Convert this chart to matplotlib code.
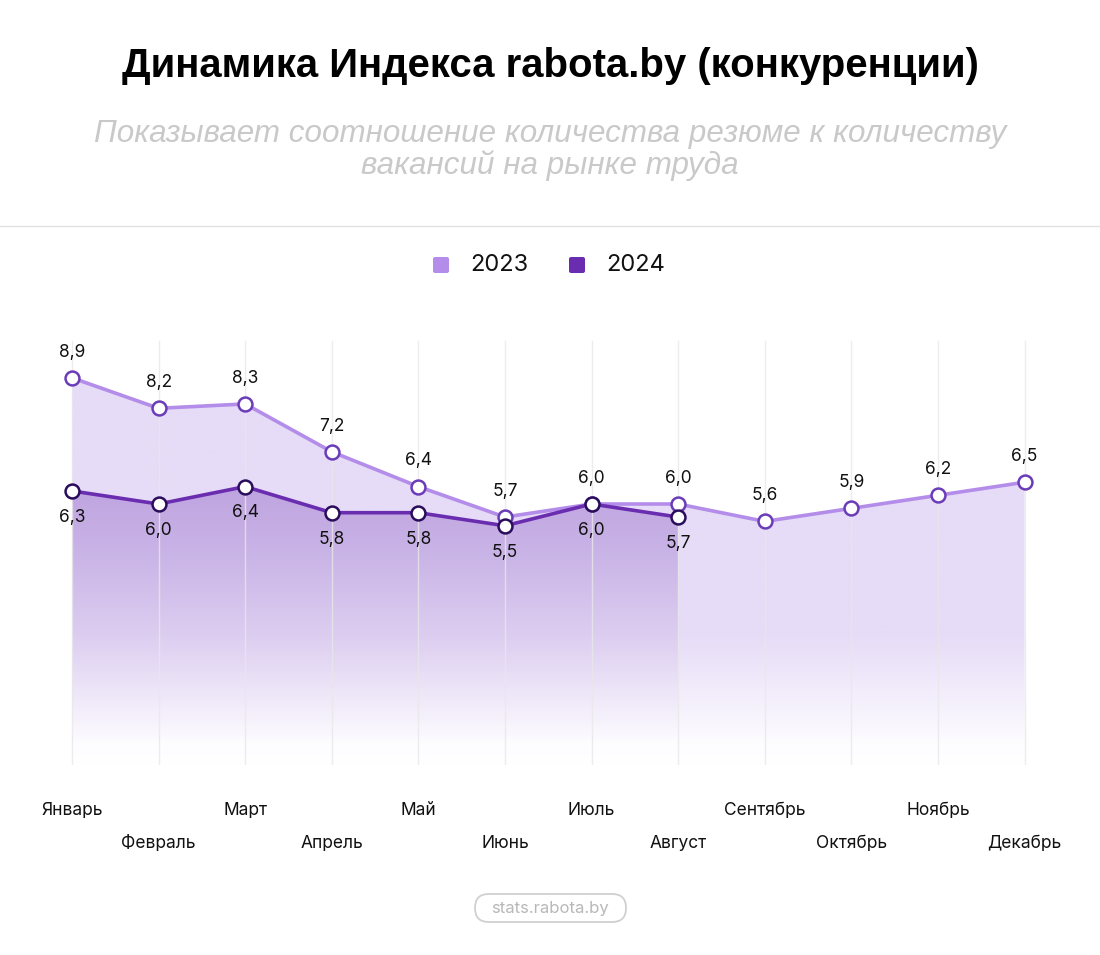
import numpy as np
import matplotlib
matplotlib.use('Agg')
import matplotlib.pyplot as plt
import matplotlib.colors as mcolors
from matplotlib.patches import Polygon, FancyBboxPatch
from matplotlib.lines import Line2D

# данные
months = ['Январь', 'Февраль', 'Март', 'Апрель', 'Май', 'Июнь',
          'Июль', 'Август', 'Сентябрь', 'Октябрь', 'Ноябрь', 'Декабрь']
vals_2023 = [8.9, 8.2, 8.3, 7.2, 6.4, 5.7, 6.0, 6.0, 5.6, 5.9, 6.2, 6.5]
vals_2024 = [6.3, 6.0, 6.4, 5.8, 5.8, 5.5, 6.0, 5.7]

c23 = '#b38de9'
c24 = '#6a2db0'
edge23 = '#6a3cb8'
edge24 = '#2a0c5c'
label_font = 'Inter'

fig = plt.figure(figsize=(11, 9.55), dpi=100)

# заголовок и подзаголовок
fig.text(0.5, 1 - 66 / 955, 'Динамика Индекса rabota.by (конкуренции)',
         ha='center', va='center', fontsize=28.9, fontweight='bold',
         family='Liberation Sans', color='#000000')
fig.text(0.5, 1 - 150 / 955,
         'Показывает соотношение количества резюме к количеству\nвакансий на рынке труда',
         ha='center', va='center', fontsize=22.6, style='italic',
         family='Liberation Sans', color='#c9c9c9', linespacing=1.08)
fig.add_artist(Line2D([0, 1], [1 - 226 / 955, 1 - 226 / 955],
                      color='#e2e2e2', lw=1, transform=fig.transFigure))

# легенда
for xs, col, txt in [(441, c23, '2023'), (577, c24, '2024')]:
    fig.add_artist(FancyBboxPatch(((xs - 8) / 1100, (955 - 273) / 955), 16 / 1100, 16 / 955,
                                  boxstyle='round,pad=0,rounding_size=0.002',
                                  transform=fig.transFigure, facecolor=col,
                                  edgecolor='none'))
    fig.text((xs + 29) / 1100, 1 - 265 / 955, txt, ha='left', va='center',
             fontsize=17, family=label_font, color='#111111')

# оси
px_per_unit = 86.6
ax_left = 72 - 0.5 * px_per_unit
ax_width = 12 * px_per_unit
ax = fig.add_axes([ax_left / 1100, (955 - 765) / 955, ax_width / 1100, 435 / 955])
ax.set_xlim(-0.5, 11.5)
ax.set_ylim(0, 10)
ax.axis('off')

x23 = np.arange(len(vals_2023))
x24 = np.arange(len(vals_2024))

# вертикальная сетка
for xi in x23:
    ax.plot([xi, xi], [0, 9.75], color='#e8e8e8', lw=1, zorder=3, alpha=0.8)


def gradient_area(xs, ys, stops, zorder):
    verts = [(xs[0], 0)] + list(zip(xs, ys)) + [(xs[-1], 0)]
    poly = Polygon(verts, closed=True, facecolor='none', edgecolor='none')
    ax.add_patch(poly)
    vv = np.linspace(10, 0, 400)
    sv = [s[0] for s in stops]
    cols = np.array([mcolors.to_rgb(s[1]) for s in stops])
    img = np.zeros((len(vv), 2, 3))
    for k in range(3):
        ch = np.interp(vv, sv, cols[:, k])
        img[:, :, k] = ch[:, None]
    im = ax.imshow(img, extent=[xs[0], xs[-1], 0, 10], aspect='auto',
                   zorder=zorder, interpolation='bilinear')
    im.set_clip_path(poly)


gradient_area(x23, vals_2023,
              [(0, '#ffffff'), (0.5, '#fdfcff'), (1.7, '#f2ecfb'),
               (3.0, '#e6dcf7'), (10, '#e6dcf7')], 1)
gradient_area(x24, vals_2024,
              [(0, '#ffffff'), (0.5, '#fdfcff'), (1.7, '#ede5f8'),
               (3.0, '#dccdf0'), (5.0, '#c8b2e6'), (6.5, '#bea3df'), (10, '#bea3df')], 2)

ax.plot(x23, vals_2023, color=c23, lw=2.6, zorder=4, solid_capstyle='round')
ax.plot(x24, vals_2024, color=c24, lw=2.6, zorder=5, solid_capstyle='round')
ax.plot(x23, vals_2023, 'o', ms=10, mfc='white', mec=edge23, mew=1.8, zorder=6)
ax.plot(x24, vals_2024, 'o', ms=10, mfc='white', mec=edge24, mew=1.8, zorder=7)


def fmt(v):
    return f'{v:.1f}'.replace('.', ',')


for xi, v in zip(x23, vals_2023):
    ax.annotate(fmt(v), (xi, v), xytext=(0, 18.5), textcoords='offset points',
                ha='center', va='center', fontsize=12.5, family=label_font,
                color='#111111', zorder=8)
for xi, v in zip(x24, vals_2024):
    ax.annotate(fmt(v), (xi, v), xytext=(0, -19), textcoords='offset points',
                ha='center', va='center', fontsize=12.5, family=label_font,
                color='#111111', zorder=8)

# подписи месяцев
for i, m in enumerate(months):
    yy = -45 if i % 2 == 0 else -78
    ax.annotate(m, (i, 0), xytext=(0, yy * 0.72), textcoords='offset points',
                ha='center', va='center', fontsize=12.5, family=label_font,
                color='#111111', annotation_clip=False)

# подпись источника
fig.add_artist(FancyBboxPatch((475 / 1100, (955 - 922) / 955), 151 / 1100, 28 / 955,
                              boxstyle='round,pad=0,rounding_size=0.0125',
                              transform=fig.transFigure, facecolor='white',
                              edgecolor='#d0d0d0', lw=1.3, mutation_aspect=1100 / 955))
fig.text(0.5, 1 - 908 / 955, 'stats.rabota.by', ha='center', va='center',
         fontsize=12, family=label_font, color='#b8b8b8')

fig.savefig('out.png', dpi=100, facecolor='white')
